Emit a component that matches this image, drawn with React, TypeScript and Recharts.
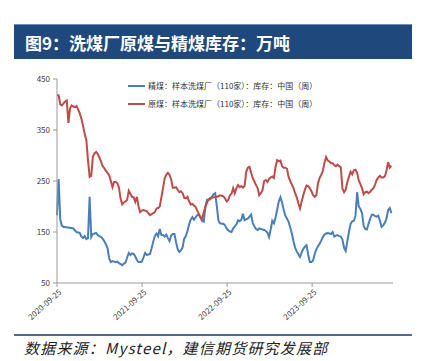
import React from "react";
import { LineChart, Line, XAxis, YAxis } from "recharts";

// weekly, starting 2020-09-25 (万吨)
const cleanCoal = [
  183, 254, 175, 162, 160, 160, 159, 159, 158, 158, 157, 153, 150, 149, 148, 141, 138, 142, 136, 138,
  219, 140, 146, 147, 148, 144, 142, 140, 137, 132, 126, 118, 98, 91, 93, 92, 91, 92, 89, 87,
  85, 88, 90, 100, 109, 105, 108, 107, 102, 95, 91, 91, 92, 100, 109, 105, 106, 107, 118, 131,
  142, 147, 142, 156, 144, 144, 141, 145, 138, 132, 143, 146, 146, 130, 116, 111, 114, 120, 137, 142,
  152, 165, 174, 179, 174, 179, 183, 184, 178, 171, 170, 200, 213, 213, 214, 219, 224, 226, 200, 172,
  167, 166, 166, 163, 157, 153, 151, 150, 157, 161, 165, 173, 171, 174, 186, 173, 175, 176, 180, 184,
  168, 161, 156, 154, 157, 156, 155, 154, 152, 149, 140, 155, 172, 167, 178, 194, 210, 218, 208, 193,
  182, 176, 170, 159, 147, 132, 119, 112, 106, 101, 110, 117, 121, 124, 106, 91, 91, 94, 107, 116,
  122, 127, 133, 140, 145, 147, 148, 147, 146, 150, 141, 143, 144, 142, 141, 135, 119, 113, 132, 150,
  166, 171, 172, 182, 228, 200, 195, 187, 162, 156, 155, 166, 176, 184, 184, 181, 180, 182, 172, 160,
  163, 168, 176, 193, 197, 187,
];

const rawCoal = [
  418, 418, 400, 398, 402, 406, 408, 364, 392, 398, 396, 395, 397, 390, 382, 372, 358, 342, 330, 291,
  258, 260, 298, 304, 307, 303, 296, 288, 279, 275, 270, 266, 261, 250, 238, 248, 248, 246, 237, 215,
  204, 208, 210, 213, 231, 225, 219, 218, 209, 219, 200, 189, 192, 193, 192, 191, 187, 183, 185, 187,
  189, 196, 197, 200, 218, 236, 255, 262, 266, 262, 253, 237, 237, 238, 233, 228, 230, 226, 217, 216,
  219, 210, 204, 205, 202, 199, 192, 185, 179, 176, 189, 199, 208, 214, 217, 217, 218, 218, 219, 220,
  222, 221, 220, 216, 210, 213, 222, 225, 236, 226, 236, 242, 238, 240, 237, 240, 268, 276, 278, 266,
  256, 249, 242, 236, 222, 226, 232, 250, 252, 248, 254, 257, 259, 256, 278, 291, 289, 290, 279, 276,
  276, 274, 258, 250, 243, 236, 226, 218, 206, 196, 210, 222, 233, 241, 240, 236, 230, 222, 219, 222,
  245, 256, 262, 270, 286, 297, 290, 288, 285, 285, 281, 279, 282, 279, 277, 235, 228, 233, 248, 258,
  268, 263, 271, 272, 266, 251, 244, 236, 224, 228, 229, 226, 229, 233, 236, 243, 252, 257, 260, 257,
  257, 259, 270, 287, 276, 280,
];

const tickLabels = ["2020-09-25", "2021-09-25", "2022-09-25", "2023-09-25"];
const yTicks = [50, 150, 250, 350, 450];

const seriesNames = {
  clean: "精煤：样本洗煤厂（110家）：库存：中国（周）",
  raw: "原煤：样本洗煤厂（110家）：库存：中国（周）",
};

const DAY = 86400000;
const START = Date.parse("2020-09-25T00:00:00Z");

const data = cleanCoal.map((v, i) => ({
  t: START + i * 7 * DAY,
  clean: v,
  raw: rawCoal[i],
}));

const xTicks = tickLabels.map((s) => Date.parse(s + "T00:00:00Z"));

const BLUE = "#4A7EBB";
const RED = "#BE4B48";
const FONT = '"Noto Sans CJK SC", "Noto Sans", sans-serif';

const XTick = ({ x, y, payload }: { x?: number; y?: number; payload?: { value: number } }) => {
  const idx = xTicks.indexOf(payload?.value ?? -1);
  return (
    <g transform={`translate(${(x ?? 0) + 5},${(y ?? 0) + 4})`}>
      <text
        textAnchor="end"
        transform="rotate(-42)"
        fontSize={8}
        fill="#404040"
        fontFamily={FONT}
      >
        {tickLabels[idx]}
      </text>
    </g>
  );
};

const legendItems = [
  { name: seriesNames.clean, color: BLUE },
  { name: seriesNames.raw, color: RED },
];

export default function App() {
  return (
    <div
      style={{
        position: "absolute",
        left: 0,
        top: 0,
        width: 423,
        height: 361,
        background: "#fff",
        fontFamily: FONT,
      }}
    >
      <div
        style={{
          position: "absolute",
          left: 14,
          top: 24,
          width: 398,
          height: 35,
          background: "#1F497D",
          borderTop: "1px solid #6f8fb8",
          color: "#fff",
          fontSize: 17,
          fontWeight: 700,
          lineHeight: "35px",
          paddingLeft: 11,
          boxSizing: "border-box",
        }}
      >
        图9：洗煤厂原煤与精煤库存：万吨
      </div>

      <div style={{ position: "absolute", left: 0, top: 0 }}>
        <LineChart
          width={423}
          height={361}
          data={data}
          margin={{ top: 79, right: 30, left: 7, bottom: 38 }}
        >
          <XAxis
            dataKey="t"
            type="number"
            domain={[START, START + 1442 * DAY]}
            ticks={xTicks}
            tick={<XTick />}
            tickSize={4}
            height={40}
            axisLine={{ stroke: "#999" }}
            tickLine={{ stroke: "#999" }}
            interval={0}
          />
          <YAxis
            domain={[50, 450]}
            ticks={yTicks}
            width={50}
            tickSize={4}
            tickMargin={3}
            axisLine={{ stroke: "#999" }}
            tickLine={{ stroke: "#999" }}
            tick={{ fontSize: 8, fill: "#404040", fontFamily: FONT }}
            interval={0}
          />
          <Line
            dataKey="clean"
            name={seriesNames.clean}
            stroke={BLUE}
            strokeWidth={2}
            dot={false}
            isAnimationActive={false}
          />
          <Line
            dataKey="raw"
            name={seriesNames.raw}
            stroke={RED}
            strokeWidth={2}
            dot={false}
            isAnimationActive={false}
          />
        </LineChart>
      </div>

      <div
        style={{
          position: "absolute",
          left: 128,
          top: 77,
          fontSize: 8,
          color: "#333",
          lineHeight: "18px",
          whiteSpace: "nowrap",
        }}
      >
        {legendItems.map((item) => (
          <div key={item.name} style={{ display: "flex", alignItems: "center" }}>
            <span
              style={{
                display: "inline-block",
                width: 17,
                height: 2,
                background: item.color,
                marginRight: 3,
              }}
            />
            <span>{item.name}</span>
          </div>
        ))}
      </div>

      <div
        style={{
          position: "absolute",
          left: 14,
          top: 334,
          width: 398,
          height: 2,
          background: "#4F6B94",
        }}
      />
      <div
        style={{
          position: "absolute",
          left: 24,
          top: 338,
          fontSize: 15,
          fontStyle: "italic",
          color: "#222",
          whiteSpace: "nowrap",
          lineHeight: "20px",
          letterSpacing: 1.2,
        }}
      >
        数据来源：Mysteel，建信期货研究发展部
      </div>
    </div>
  );
}
